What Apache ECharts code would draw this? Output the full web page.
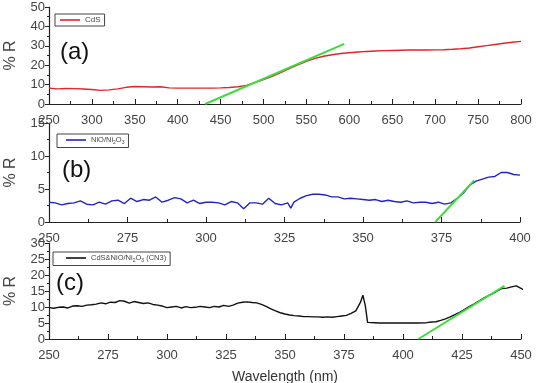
<!DOCTYPE html>
<html>
<head>
<meta charset="utf-8">
<script src="https://cdn.jsdelivr.net/npm/echarts@6/dist/echarts.min.js"></script>
<style>
  html, body { margin: 0; padding: 0; background: #fff; }
  #chart { width: 538px; height: 383px; }
</style>
</head>
<body>
<div id="chart"></div>
<script>
// (a) CdS
var cdsX = [250,260,270,280,290,300,310,320,330,340,350,360,370,380,390,400,410,420,430,440,450,460,470,480,490,500,510,520,530,540,550,560,570,580,590,600,610,620,630,640,650,660,670,680,690,700,710,720,730,740,750,760,770,780,790,800];
var cdsY = [8.2,7.8,8.0,7.9,7.7,7.5,7.0,7.3,7.8,8.6,9.0,8.9,8.8,8.9,8.3,8.2,8.2,8.2,8.2,8.2,8.3,8.5,8.9,9.6,11.0,12.6,14.3,16.2,18.2,20.2,22.0,23.5,24.6,25.4,26.0,26.4,26.8,27.1,27.3,27.5,27.6,27.7,27.8,27.8,27.8,27.9,28.0,28.2,28.5,28.9,29.5,30.1,30.7,31.3,31.8,32.3];
var cdsFitX = [432, 594];
var cdsFitY = [0, 31];

// (b) NiO/Ni2O3
var nioX = [250,252,254,256,258,260,262,264,266,268,270,272,274,276,278,280,282,284,286,288,290,292,294,296,298,300,302,304,306,308,310,312,314,316,318,320,322,324,326,327,328,330,332,334,336,338,340,342,344,346,348,350,352,354,356,358,360,362,364,366,368,370,372,374,376,378,380,382,384,386,388,390,392,394,396,398,400];
var nioY = [3.0,2.9,2.6,2.8,2.9,3.2,2.7,2.6,3.0,2.7,3.2,3.3,2.8,3.6,3.1,3.4,3.3,3.8,3.0,3.3,3.7,3.5,2.9,3.3,2.8,3.0,3.0,2.9,2.6,3.1,2.9,2.0,2.9,2.9,2.7,3.6,2.8,2.6,2.9,2.1,3.0,3.6,4.0,4.2,4.2,4.1,3.8,3.8,3.5,3.6,3.5,3.4,3.3,3.4,3.1,3.3,3.1,3.0,3.2,2.9,3.0,3.0,2.8,3.0,2.7,2.9,3.6,4.4,5.6,6.2,6.5,6.8,6.9,7.5,7.5,7.2,7.1];
var nioFitX = [373, 385.4];
var nioFitY = [0, 6.3];

// (c) CdS&NiO/Ni2O3 (CN3)
var cn3X = [250,252,254,256,258,260,262,264,266,268,270,272,274,276,278,280,282,284,286,288,290,292,294,296,298,300,302,304,306,308,310,312,314,316,318,320,322,324,326,328,330,332,334,336,338,340,342,344,346,348,350,352,354,356,358,360,362,364,366,368,370,372,374,376,378,380,382,383,384,385,388,390,394,398,402,406,410,412,414,416,418,420,422,424,426,428,430,432,434,436,438,440,442,444,446,448,450,452,454];
var cn3Y = [9.8,9.6,9.9,10.0,9.7,10.3,10.4,10.2,10.6,10.7,10.9,11.3,11.0,11.5,11.4,12.0,11.8,11.2,11.7,11.4,11.1,11.3,10.8,10.6,10.3,9.8,10.0,10.2,9.7,10.1,9.8,9.9,10.2,10.0,9.8,10.2,10.0,10.5,10.2,10.6,11.2,11.5,11.6,11.4,11.3,10.8,10.2,9.4,8.8,8.2,7.8,7.5,7.3,7.2,7.0,7.0,6.9,6.9,6.8,6.9,6.8,7.0,7.2,7.4,8.0,8.8,11.5,13.7,10.5,5.2,5.1,5.0,5.0,5.0,5.0,5.0,5.1,5.3,5.4,5.8,6.3,6.9,7.6,8.3,9.2,10.1,10.9,11.8,12.7,13.5,14.2,15.0,15.8,15.9,16.3,16.6,15.8,15.0,14.3];
var cn3FitX = [406.5, 443];
var cn3FitY = [0, 16.6];

function pairs(xs, ys) {
    return xs.map(function (x, i) { return [x, ys[i]]; });
}

var chart = echarts.init(document.getElementById("chart"));

var font = 'Liberation Sans, Arial, sans-serif';

function xAx(idx, min, max, step) {
    return {
        gridIndex: idx,
        type: 'value',
        min: min,
        max: max,
        interval: step,
        splitLine: { show: false },
        axisLine: { onZero: false, lineStyle: { color: '#222', width: 1.2 } },
        axisTick: { inside: true, length: 5, lineStyle: { color: '#222' } },
        minorTick: { show: true, splitNumber: 2, length: 3, lineStyle: { color: '#222' } },
        axisLabel: { color: '#444', fontSize: 13, fontFamily: font, margin: 10 }
    };
}

function yAx(idx, max, step) {
    return {
        gridIndex: idx,
        type: 'value',
        min: 0,
        max: max,
        interval: step,
        name: '% R',
        nameLocation: 'middle',
        nameGap: 30,
        nameTextStyle: { color: '#444', fontSize: 16, fontFamily: font },
        splitLine: { show: false },
        axisLine: { show: true, lineStyle: { color: '#222', width: 1.2 } },
        axisTick: { show: true, length: 4, lineStyle: { color: '#222' } },
        minorTick: { show: true, splitNumber: 2, length: 2, lineStyle: { color: '#222' } },
        axisLabel: { color: '#444', fontSize: 13, fontFamily: font, margin: 4 }
    };
}

function legendBox(name, left, top, padLeft, fmt) {
    return {
        data: [name],
        left: left,
        top: top,
        orient: 'horizontal',
        icon: 'rect',
        borderColor: '#444',
        borderWidth: 1,
        borderRadius: 0,
        padding: [2, 4, 2, padLeft],
        itemWidth: 20,
        itemHeight: 1.6,
        itemGap: 2,
        textStyle: {
            fontSize: 8, color: '#444', fontFamily: font,
            rich: { n: { fontSize: 7.5, color: '#444' }, s: { fontSize: 5, color: '#444', padding: [6, 0, 0, 0] } }
        },
        formatter: fmt
    };
}

function lineSeries(name, idx, data, color, clip) {
    return {
        name: name,
        type: 'line',
        xAxisIndex: idx,
        yAxisIndex: idx,
        data: data,
        symbol: 'none',
        clip: clip,
        lineStyle: { color: color, width: 1.4 },
        itemStyle: { color: color }
    };
}

function fitSeries(idx, data) {
    return {
        type: 'line',
        xAxisIndex: idx,
        yAxisIndex: idx,
        data: data,
        symbol: 'none',
        clip: false,
        z: 3,
        lineStyle: { color: '#3ddc3d', width: 2 }
    };
}

var option = {
    animation: false,
    backgroundColor: '#fff',
    grid: [
        { left: 49, right: 17, top: 7, height: 97, outerBoundsMode: 'none' },
        { left: 49, right: 18, top: 123, height: 99, outerBoundsMode: 'none' },
        { left: 49, right: 17, top: 243, height: 96, outerBoundsMode: 'none' }
    ],
    xAxis: [
        xAx(0, 250, 800, 50),
        xAx(1, 250, 400, 25),
        Object.assign(xAx(2, 250, 450, 25), {
            name: 'Wavelength (nm)',
            nameLocation: 'middle',
            nameGap: 31,
            nameTextStyle: { color: '#333', fontSize: 14, fontFamily: font }
        })
    ],
    yAxis: [
        yAx(0, 50, 10),
        yAx(1, 15, 5),
        yAx(2, 30, 5)
    ],
    legend: [
        legendBox('CdS', 55, 14, 5),
        legendBox('NiO/Ni2O3', 57, 134, 9, function () {
            return '{n|NiO/Ni}{s|2}{n|O}{s|3}';
        }),
        legendBox('CdS&NiO/Ni2O3 (CN3)', 53, 252, 13, function () {
            return '{n|CdS&NiO/Ni}{s|2}{n|O}{s|3}{n| (CN3)}';
        })
    ],
    graphic: [
        { type: 'text', left: 60, top: 40, style: { text: '(a)', font: '24px ' + font, fill: '#111' } },
        { type: 'text', left: 62, top: 158, style: { text: '(b)', font: '24px ' + font, fill: '#111' } },
        { type: 'text', left: 56, top: 271, style: { text: '(c)', font: '24px ' + font, fill: '#111' } }
    ],
    series: [
        lineSeries('CdS', 0, pairs(cdsX, cdsY), '#e0262b', true),
        fitSeries(0, pairs(cdsFitX, cdsFitY)),
        lineSeries('NiO/Ni2O3', 1, pairs(nioX, nioY), '#2323c8', true),
        fitSeries(1, pairs(nioFitX, nioFitY)),
        lineSeries('CdS&NiO/Ni2O3 (CN3)', 2, pairs(cn3X, cn3Y), '#111111', false),
        fitSeries(2, pairs(cn3FitX, cn3FitY))
    ]
};

chart.setOption(option);

window.onresize = function () {
    chart.resize();
};
</script>
</body>
</html>
